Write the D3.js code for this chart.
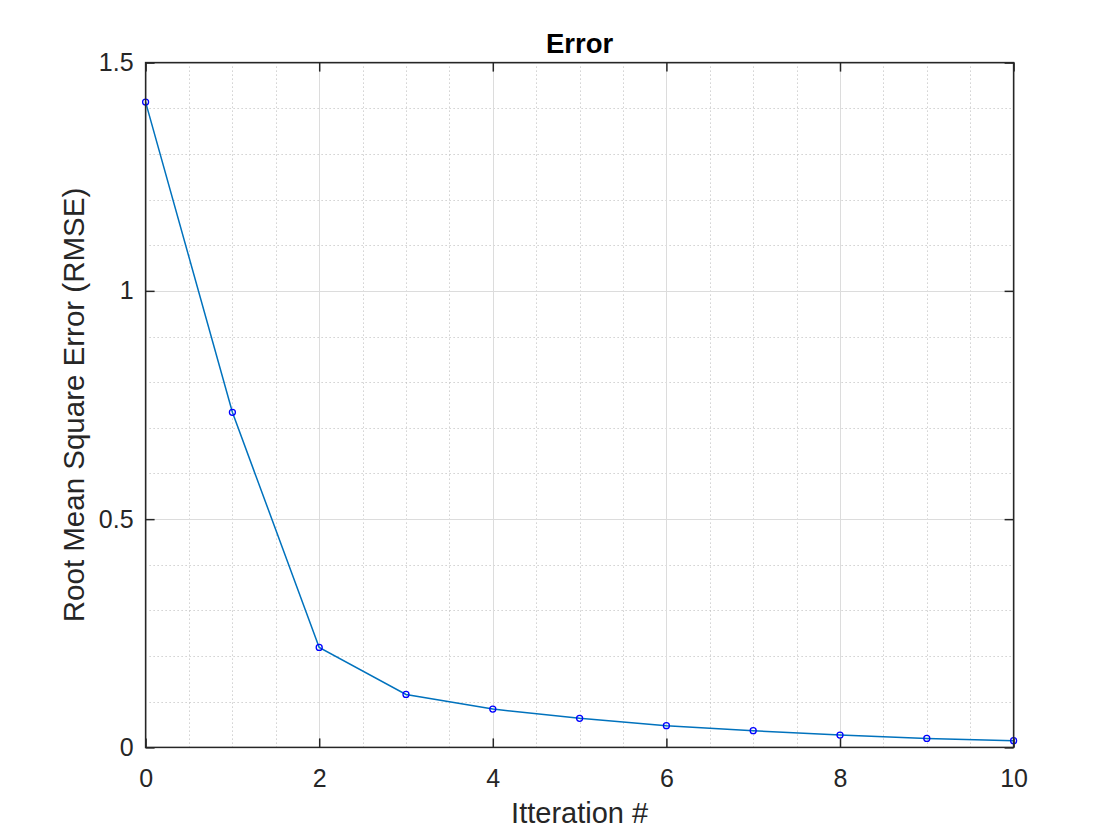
<!DOCTYPE html>
<html><head><meta charset="utf-8">
<script src="https://cdn.jsdelivr.net/npm/d3@7"></script>
<style>body{margin:0;background:#fff}svg{display:block}text{font-family:"Liberation Sans",Arial,Helvetica,sans-serif}</style>
</head><body>
<svg id="c" width="1120" height="840"></svg>
<script>
const iterations = [0,1,2,3,4,5,6,7,8,9,10];
const rmse = [1.4135,0.734,0.219,0.116,0.084,0.0636,0.0475,0.0366,0.027,0.0197,0.0147];
const xTicks = [0,2,4,6,8,10];
const yTicks = [0,0.5,1,1.5];
const yTickLabels = ["0","0.5","1","1.5"];
const titleText = "Error";
const xLabelText = "Itteration #";
const yLabelText = "Root Mean Square Error (RMSE)";

const W=1120,H=840;
const L=145.6, R=1013.6, T=62.6, B=747.4;
const svg=d3.select("#c");
const x=d3.scaleLinear().domain([0,10]).range([L,R]);
const y=d3.scaleLinear().domain([0,1.5]).range([B,T]);

svg.append("rect").attr("x",L).attr("y",T).attr("width",R-L).attr("height",B-T).attr("fill","#fff");

// minor grid
const g=svg.append("g");
const xMinor=d3.range(0,10.001,0.5).filter(v=>Math.abs(v/2-Math.round(v/2))>1e-6);
const yMinor=d3.range(0,1.5001,0.1).map(v=>+v.toFixed(2)).filter(v=>Math.abs(v/0.5-Math.round(v/0.5))>1e-6);
g.selectAll(".xm").data(xMinor).join("line").attr("x1",d=>Math.round(x(d))+0.5).attr("x2",d=>Math.round(x(d))+0.5)
 .attr("y1",T).attr("y2",B).attr("stroke","#b8b8b8").attr("stroke-width",1).attr("stroke-dasharray","1,3");
g.selectAll(".ym").data(yMinor).join("line").attr("y1",d=>Math.round(y(d))+0.5).attr("y2",d=>Math.round(y(d))+0.5)
 .attr("x1",L).attr("x2",R).attr("stroke","#b8b8b8").attr("stroke-width",1).attr("stroke-dasharray","1,3");
// major grid
g.selectAll(".xM").data(xTicks).join("line").attr("x1",d=>Math.round(x(d))+0.5).attr("x2",d=>Math.round(x(d))+0.5)
 .attr("y1",T).attr("y2",B).attr("stroke","#dcdcdc").attr("stroke-width",1);
g.selectAll(".yM").data(yTicks).join("line").attr("y1",d=>Math.round(y(d))+0.5).attr("y2",d=>Math.round(y(d))+0.5)
 .attr("x1",L).attr("x2",R).attr("stroke","#dcdcdc").attr("stroke-width",1);

// data line
svg.append("path").datum(iterations.map((d,i)=>[d,rmse[i]]))
 .attr("d",d3.line().x(d=>x(d[0])).y(d=>y(d[1])))
 .attr("fill","none").attr("stroke","#0072BD").attr("stroke-width",1.5);
svg.selectAll(".pt").data(iterations).join("circle")
 .attr("cx",d=>x(d)).attr("cy",(d,i)=>y(rmse[i])).attr("r",3)
 .attr("fill","none").attr("stroke","#0000FF").attr("stroke-width",1.3);

// axes with inner ticks
const tl=-9;
const fmt=(d)=>yTickLabels[yTicks.indexOf(d)];
const ax=(sel,axis)=>{sel.call(axis);sel.select(".domain").remove();
 sel.selectAll(".tick line").attr("stroke","#262626").attr("stroke-width",1.5);
 sel.selectAll(".tick text").attr("fill","#262626").style("font-size","25px");};
svg.append("g").attr("transform",`translate(0,${B})`).call(s=>ax(s,d3.axisBottom(x).tickValues(xTicks).tickSize(tl).tickPadding(22).tickFormat(d3.format("d"))));
svg.append("g").attr("transform",`translate(0,${T})`).call(s=>{ax(s,d3.axisTop(x).tickValues(xTicks).tickSize(tl).tickFormat(""));});
svg.append("g").attr("transform",`translate(${L},0)`).call(s=>ax(s,d3.axisLeft(y).tickValues(yTicks).tickSize(tl).tickPadding(12).tickFormat(fmt)));
svg.append("g").attr("transform",`translate(${R},0)`).call(s=>{ax(s,d3.axisRight(y).tickValues(yTicks).tickSize(tl).tickFormat(""));});

// box
svg.append("rect").attr("x",L).attr("y",T).attr("width",R-L).attr("height",B-T)
 .attr("fill","none").attr("stroke","#262626").attr("stroke-width",1.5);

// labels
svg.append("text").attr("x",(L+R)/2).attr("y",53).attr("text-anchor","middle")
 .style("font-size","27.5px").style("font-weight","bold").attr("fill","#000").text(titleText);
svg.append("text").attr("x",(L+R)/2).attr("y",823).attr("text-anchor","middle")
 .style("font-size","29px").attr("fill","#262626").text(xLabelText);
svg.append("text").attr("transform",`translate(84,${(T+B)/2}) rotate(-90)`).attr("text-anchor","middle")
 .style("font-size","29.5px").attr("fill","#262626").text(yLabelText);
</script>
</body></html>
